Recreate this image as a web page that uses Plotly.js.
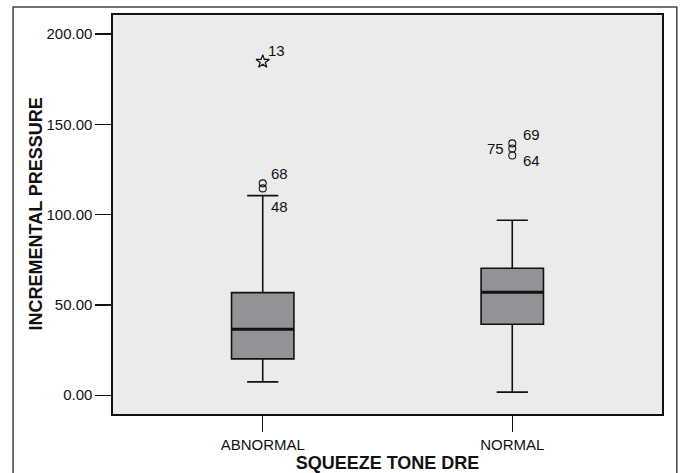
<!DOCTYPE html>
<html>
<head>
<meta charset="utf-8">
<script src="https://cdn.plot.ly/plotly-3.0.1.min.js"></script>
<style>html,body{margin:0;padding:0;background:#fff;}#chart{width:680px;height:473px;}</style>
</head>
<body>
<div id="chart"></div>
<script>
// Data
const categories = ['ABNORMAL', 'NORMAL'];
const q1 = [20.1, 39.3];
const medians = [36.5, 57.0];
const q3 = [56.8, 70.3];
const lowerFence = [7.4, 1.7];
const upperFence = [110.5, 96.9];

// Outliers (circles) and extremes (stars)
const outlierCat = ['ABNORMAL', 'ABNORMAL', 'NORMAL', 'NORMAL', 'NORMAL'];
const outlierVal = [117.3, 114.5, 139.4, 136.6, 132.7];
const extremeCat = ['ABNORMAL'];
const extremeVal = [184.7];

// Case labels
const labelText = ['13', '68', '48', '75', '69', '64'];
const labelCat = ['ABNORMAL', 'ABNORMAL', 'ABNORMAL', 'NORMAL', 'NORMAL', 'NORMAL'];
const labelVal = [184.7, 117.3, 114.5, 136.6, 139.4, 132.7];

const yTicks = [0, 50, 100, 150, 200];
const xTitle = 'SQUEEZE TONE DRE';
const yTitle = 'INCREMENTAL PRESSURE';

const FONT = 'Liberation Sans, Arial, Helvetica, sans-serif';
const BOXW = 0.25;

// label offsets (style)
const labelShift = [[14, 11], [17, 10], [17, -18], [-17, 0], [19, 9], [19, -5]];

const traces = [];
categories.forEach((c, i) => {
  traces.push({
    type: 'box',
    x: [c],
    q1: [q1[i]], median: [medians[i]], q3: [q3[i]],
    lowerfence: [lowerFence[i]], upperfence: [upperFence[i]],
    boxpoints: false,
    width: BOXW,
    whiskerwidth: 0.5,
    fillcolor: '#939397',
    line: {color: '#111', width: 1.6},
    showlegend: false,
    hoverinfo: 'skip'
  });
});
traces.push({
  type: 'scatter', mode: 'markers',
  x: outlierCat, y: outlierVal,
  marker: {symbol: 'circle-open', size: 7, color: '#111', line: {width: 1.1}},
  showlegend: false
});
traces.push({
  type: 'scatter', mode: 'markers',
  x: extremeCat, y: extremeVal,
  marker: {symbol: 'star-open', size: 10, color: '#111', line: {width: 1.2}},
  showlegend: false
});

const annotations = labelText.map((t, i) => ({
  x: labelCat[i], y: labelVal[i], xref: 'x', yref: 'y',
  text: t, showarrow: false,
  xshift: labelShift[i][0], yshift: labelShift[i][1],
  font: {family: FONT, size: 15, color: '#111'}
}));
annotations.push({
  xref: 'paper', yref: 'paper', x: 0, y: 0.5,
  xanchor: 'center', yanchor: 'middle', xshift: -78,
  textangle: -90, showarrow: false,
  text: '<b>' + yTitle + '</b>',
  font: {family: FONT, size: 18, color: '#111'}
});

const shapes = categories.map((c, i) => ({
  type: 'line', xref: 'x', yref: 'y',
  x0: i - BOXW / 2, x1: i + BOXW / 2, y0: medians[i], y1: medians[i],
  line: {color: '#111', width: 3}
}));
shapes.push({
  type: 'rect', xref: 'paper', yref: 'paper',
  x0: -0.182, x1: 1.027, y0: -0.2, y1: 1.02,
  line: {color: '#444', width: 1.5}, fillcolor: 'rgba(0,0,0,0)'
});

const layout = {
  width: 680, height: 473,
  margin: {l: 113, r: 18, t: 15, b: 59},
  paper_bgcolor: '#fff',
  plot_bgcolor: '#ebebeb',
  font: {family: FONT, size: 15, color: '#111'},
  showlegend: false,
  xaxis: {
    type: 'category',
    range: [-0.6, 1.6],
    showline: true, mirror: true, linecolor: '#111', linewidth: 1.6,
    ticks: 'outside', ticklen: 16, tickcolor: '#111', tickwidth: 1.4,
    showgrid: false, zeroline: false,
    tickfont: {family: FONT, size: 15, color: '#111'},
    title: {text: '<b>' + xTitle + '</b>', font: {family: FONT, size: 18, color: '#111'}, standoff: 0}
  },
  yaxis: {
    range: [-10.4, 210.5],
    tickvals: yTicks,
    tickformat: '.2f',
    showline: true, mirror: true, linecolor: '#111', linewidth: 1.6,
    ticks: 'outside', ticklen: 16, tickcolor: '#111', tickwidth: 1.4,
    showgrid: false, zeroline: false,
    tickfont: {family: FONT, size: 15, color: '#111'}
  },
  annotations: annotations,
  shapes: shapes
};

Plotly.newPlot('chart', traces, layout, {displayModeBar: false, staticPlot: true});
</script>
</body>
</html>
